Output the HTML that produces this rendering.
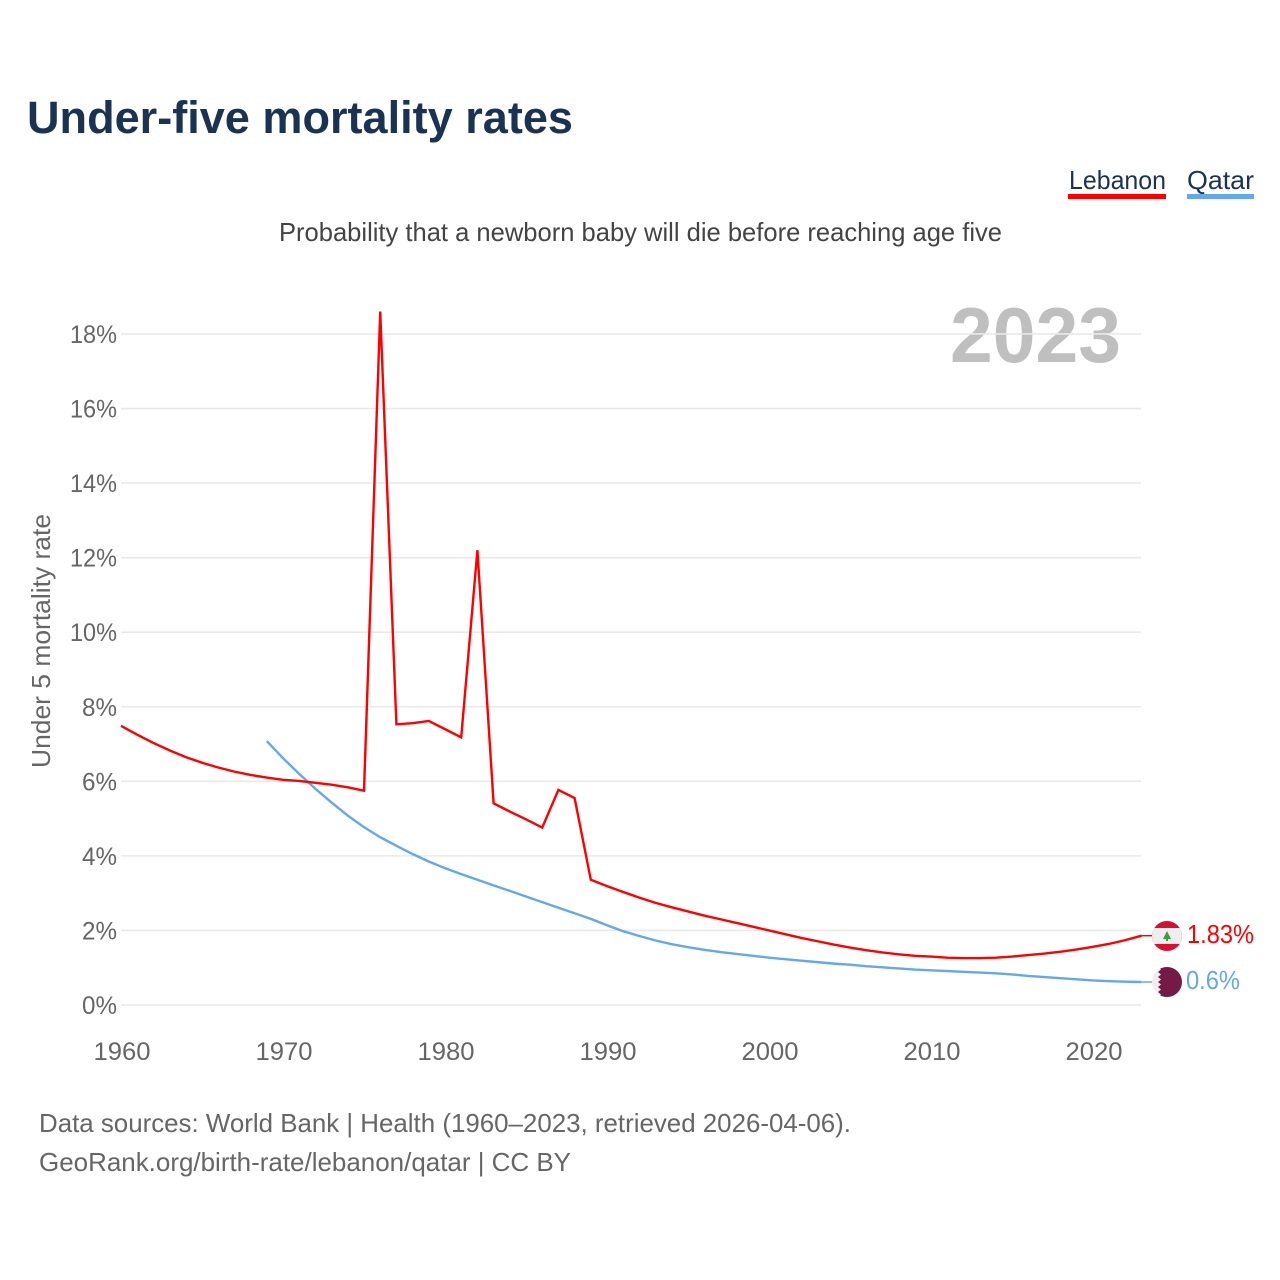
<!DOCTYPE html>
<html lang="en">
<head>
<meta charset="utf-8">
<title>Under-five mortality rates</title>
<style>
html,body{margin:0;padding:0;background:#fff}
svg{display:block}
text{font-family:"Liberation Sans",sans-serif}
</style>
</head>
<body>
<svg id="chart" xmlns="http://www.w3.org/2000/svg" width="1280" height="1280" viewBox="0 0 1280 1280">
  <defs>
    <clipPath id="flag-clip-lb"><circle cx="1167" cy="936" r="15"/></clipPath>
    <clipPath id="flag-clip-qa"><circle cx="1167" cy="982" r="15"/></clipPath>
  </defs>
  <text x="27" y="133" font-size="45" font-weight="700" fill="#1b3353" textLength="546" lengthAdjust="spacingAndGlyphs">Under-five mortality rates</text>
  <g>
    <g>
      <text x="1069" y="189" font-size="26" fill="#1b3353" textLength="97" lengthAdjust="spacingAndGlyphs">Lebanon</text>
      <rect x="1068" y="194" width="98" height="5" fill="#ff0000"/>
    </g>
    <g>
      <text x="1187" y="189" font-size="26" fill="#1b3353" textLength="67" lengthAdjust="spacingAndGlyphs">Qatar</text>
      <rect x="1187" y="194" width="67" height="5" fill="#64a8ec"/>
    </g>
  </g>
  <text x="279" y="241" font-size="26" fill="#444" textLength="723" lengthAdjust="spacingAndGlyphs">Probability that a newborn baby will die before reaching age five</text>
  <text x="950" y="362" font-size="78" font-weight="700" fill="#bfbfbf" textLength="171" lengthAdjust="spacingAndGlyphs">2023</text>
  <g id="grid"></g>
  <g id="y-ticks"></g>
  <g id="x-ticks"></g>
  <text transform="translate(50 641) rotate(-90)" text-anchor="middle" font-size="26" fill="#666" textLength="254" lengthAdjust="spacingAndGlyphs">Under 5 mortality rate</text>
  <g id="series"></g>
  <g clip-path="url(#flag-clip-lb)">
    <rect x="1152" y="921" width="30" height="30" fill="#d80f2f"/>
    <rect x="1152" y="928" width="30" height="16" fill="#eeeeee"/>
    <path d="M1167 931l4 8h-8z" fill="#3f9a45"/>
    <rect x="1166" y="939" width="2" height="2" fill="#3f9a45"/>
  </g>
  <g clip-path="url(#flag-clip-qa)">
    <rect x="1152" y="967" width="30" height="30" fill="#eeeeee"/>
    <path d="M1182 967H1158l3 2.5-3 2.5 3 2.5-3 2.5 3 2.5-3 2.5 3 2.5-3 2.5 3 2.5-3 2.5 3 2.5-3 2.5 3 2.5H1182z" fill="#741a45"/>
  </g>
  <text x="1187" y="943" font-size="26" fill="#ff0000" textLength="67" lengthAdjust="spacingAndGlyphs">1.83%</text>
  <text x="1186" y="989" font-size="26" fill="#64a8ec" textLength="54" lengthAdjust="spacingAndGlyphs">0.6%</text>
  <text x="39" y="1132" font-size="26" fill="#666" textLength="812" lengthAdjust="spacingAndGlyphs">Data sources: World Bank | Health (1960–2023, retrieved 2026-04-06).</text>
  <text x="39" y="1171" font-size="26" fill="#666" textLength="532" lengthAdjust="spacingAndGlyphs">GeoRank.org/birth-rate/lebanon/qatar | CC BY</text>
</svg>
<script>
const yTickValues = [0, 2, 4, 6, 8, 10, 12, 14, 16, 18];
const xTickYears = [1960, 1970, 1980, 1990, 2000, 2010, 2020];
const lebanonStartYear = 1960;
const lebanonValues = [7.49,7.25,7.03,6.83,6.65,6.50,6.37,6.26,6.17,6.10,6.04,6.01,5.96,5.91,5.84,5.75,18.6,7.53,7.56,7.62,7.40,7.18,12.2,5.41,5.19,4.98,4.76,5.77,5.55,3.36,3.19,3.03,2.88,2.74,2.62,2.51,2.40,2.30,2.20,2.10,2.00,1.90,1.80,1.71,1.62,1.54,1.47,1.41,1.36,1.32,1.30,1.27,1.26,1.26,1.27,1.30,1.34,1.38,1.43,1.49,1.56,1.64,1.74,1.86];
const qatarStartYear = 1969;
const qatarValues = [7.08,6.62,6.20,5.80,5.43,5.08,4.77,4.50,4.27,4.05,3.85,3.67,3.51,3.36,3.21,3.06,2.91,2.76,2.61,2.46,2.31,2.14,1.98,1.85,1.73,1.63,1.55,1.48,1.42,1.37,1.32,1.27,1.23,1.19,1.15,1.11,1.08,1.04,1.01,0.98,0.95,0.93,0.91,0.89,0.87,0.85,0.82,0.78,0.75,0.72,0.69,0.66,0.64,0.625,0.617];

const SVG_NS = 'http://www.w3.org/2000/svg';
function xScale(year){ return 121 + (year - 1960) * 16.2; }
function yScale(v){ return 1005 - v * 37.28; }
function make(tag, attrs){
  const el = document.createElementNS(SVG_NS, tag);
  for (const k in attrs) el.setAttribute(k, attrs[k]);
  return el;
}

const grid = document.getElementById('grid');
const yTicks = document.getElementById('y-ticks');
yTickValues.forEach(function(v){
  const line = make('line', {x1:121, x2:1141, y1:yScale(v), y2:yScale(v), stroke:'#e9e9e9', 'stroke-width':1.6});
  
  
  grid.appendChild(line);
  const text = v + '%';
  const w = text.length === 3 ? 47 : 35;
  const label = make('text', {x:117 - w, y:yScale(v)+9, 'font-size':25, fill:'#666', textLength:w, lengthAdjust:'spacingAndGlyphs'});
  
  
  label.textContent = text;
  yTicks.appendChild(label);
});

const xTicks = document.getElementById('x-ticks');
xTickYears.forEach(function(y){
  const label = make('text', {x:xScale(y) - 27.5, y:1060, 'font-size':25, fill:'#666', textLength:57, lengthAdjust:'spacingAndGlyphs'});
  
  
  label.textContent = y;
  xTicks.appendChild(label);
});

function seriesPoints(start, values){
  return values.map(function(v, i){ return xScale(start + i).toFixed(2) + ',' + yScale(v).toFixed(2); }).join(' ');
}
const series = document.getElementById('series');

const qatarLine = make('polyline', {points:seriesPoints(qatarStartYear, qatarValues), fill:'none', stroke:'#64a8ec', 'stroke-width':2.4, 'stroke-linejoin':'miter'});


series.appendChild(qatarLine);

const lebanonLine = make('polyline', {points:seriesPoints(lebanonStartYear, lebanonValues), fill:'none', stroke:'#ff0000', 'stroke-width':2.4, 'stroke-linejoin':'miter'});


series.appendChild(lebanonLine);

const lastQatar = qatarValues[qatarValues.length - 1];
const lastQatarYear = qatarStartYear + qatarValues.length - 1;
const lastLebanon = lebanonValues[lebanonValues.length - 1];
const lastLebanonYear = lebanonStartYear + lebanonValues.length - 1;

const leaderQatar = make('line', {x1:xScale(lastQatarYear), x2:1153, y1:yScale(lastQatar), y2:yScale(lastQatar), stroke:'#64a8ec', 'stroke-width':1.5});


series.appendChild(leaderQatar);

const leaderLebanon = make('line', {x1:xScale(lastLebanonYear), x2:1153, y1:yScale(lastLebanon), y2:yScale(lastLebanon), stroke:'#ff0000', 'stroke-width':1.5});


series.appendChild(leaderLebanon);
</script>
</body>
</html>
